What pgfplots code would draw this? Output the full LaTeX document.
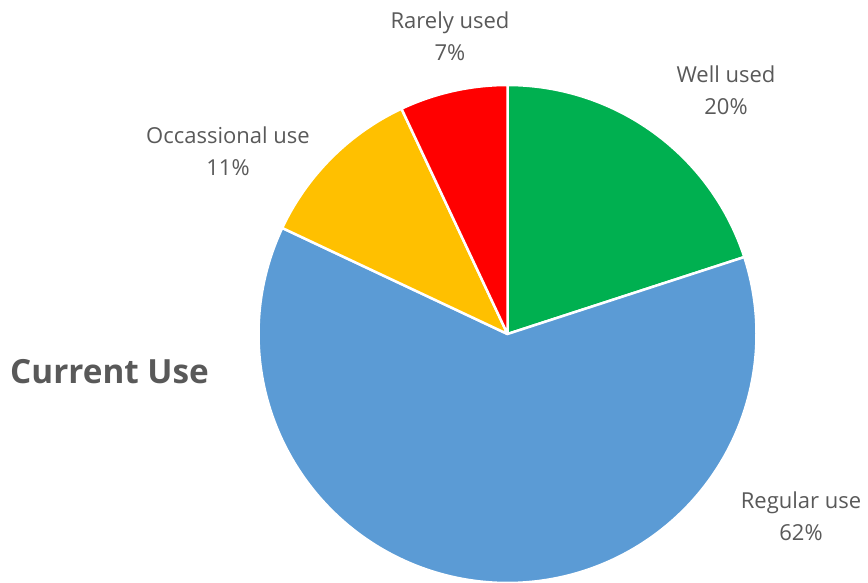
\documentclass[border=0pt]{standalone}
\usepackage{pgfplots}
\pgfplotsset{compat=1.18}
\usepackage{fontspec}
\setmainfont{Open Sans}
\definecolor{cgreen}{HTML}{00B050}
\definecolor{cblue}{HTML}{5B9BD5}
\definecolor{cyellow}{HTML}{FFC000}
\definecolor{cred}{HTML}{FF0000}
\definecolor{tgray}{HTML}{595959}
% shares (percent), clockwise from 12 o'clock
\def\vWell{20}
\def\vRegular{62}
\def\vOcc{11}
\def\vRare{7}
\def\cx{507.5}
\def\cy{249}
\def\rr{249}
\begin{document}
\begin{tikzpicture}
\pgfmathsetmacro\aA{90}
\pgfmathsetmacro\aB{\aA-3.6*\vWell}
\pgfmathsetmacro\aC{\aB-3.6*\vRegular}
\pgfmathsetmacro\aD{\aC-3.6*\vOcc}
\pgfmathsetmacro\aE{\aD-3.6*\vRare}
\begin{axis}[
  width=868pt, height=583pt, scale only axis,
  xmin=0, xmax=868, ymin=0, ymax=583,
  hide axis, clip=false,
]
\addplot[fill=cgreen, draw=white, line width=2.5pt, line join=round, domain=\aB:\aA, samples=80, variable=\t]
  ({\cx+\rr*cos(\t)},{\cy+\rr*sin(\t)}) -- (axis cs:\cx,\cy) -- cycle;
\addplot[fill=cblue, draw=white, line width=2.5pt, line join=round, domain=\aC:\aB, samples=200, variable=\t]
  ({\cx+\rr*cos(\t)},{\cy+\rr*sin(\t)}) -- (axis cs:\cx,\cy) -- cycle;
\addplot[fill=cyellow, draw=white, line width=2.5pt, line join=round, domain=\aD:\aC, samples=50, variable=\t]
  ({\cx+\rr*cos(\t)},{\cy+\rr*sin(\t)}) -- (axis cs:\cx,\cy) -- cycle;
\addplot[fill=cred, draw=white, line width=2.5pt, line join=round, domain=\aE:\aD, samples=40, variable=\t]
  ({\cx+\rr*cos(\t)},{\cy+\rr*sin(\t)}) -- (axis cs:\cx,\cy) -- cycle;
\begin{scope}[every node/.style={text=tgray, align=center, font=\fontsize{22}{32}\selectfont, inner sep=0pt}]
\node at (axis cs:450,547) {Rarely used\\7\%};
\node at (axis cs:726,493) {Well used\\20\%};
\node at (axis cs:228,432) {Occassional use\\11\%};
\node at (axis cs:801,67) {Regular use\\62\%};
\end{scope}
\node[anchor=base west, inner sep=0pt, text=tgray, font=\fontsize{33.3}{44}\selectfont\bfseries] at (axis cs:10,199) {Current Use};
\end{axis}
\pgfresetboundingbox
\path (0,0) rectangle (868pt,583pt);
\end{tikzpicture}
\end{document}
